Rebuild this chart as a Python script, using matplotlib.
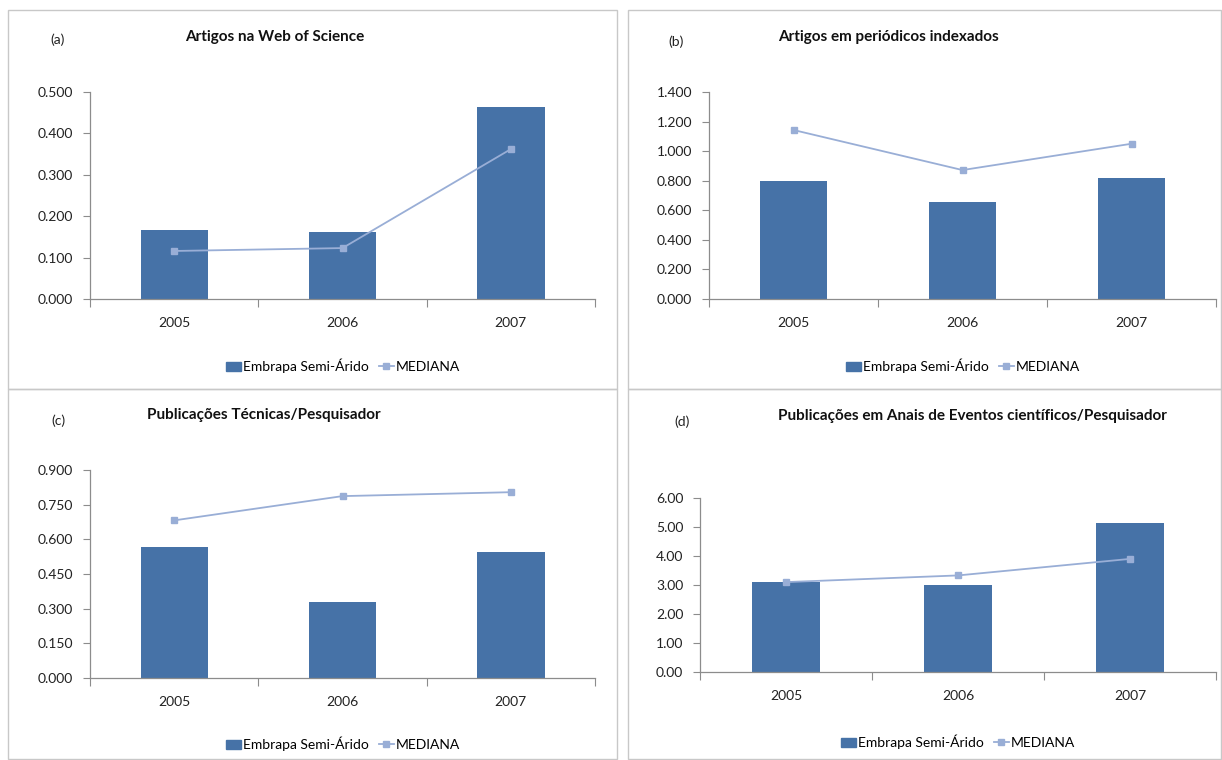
import numpy as np
import matplotlib.pyplot as plt
from matplotlib.patches import Rectangle
from matplotlib.lines import Line2D
from matplotlib.ticker import FormatStrFormatter

plt.rcParams['font.family'] = ['Lato', 'DejaVu Sans']

years = ['2005', '2006', '2007']

# (a) Artigos na Web of Science
wos_embrapa = [0.167, 0.162, 0.464]
wos_mediana = [0.116, 0.123, 0.362]

# (b) Artigos em periódicos indexados
per_embrapa = [0.800, 0.656, 0.818]
per_mediana = [1.143, 0.872, 1.050]

# (c) Publicações Técnicas/Pesquisador
tec_embrapa = [0.567, 0.329, 0.545]
tec_mediana = [0.682, 0.787, 0.804]

# (d) Publicações em Anais de Eventos científicos/Pesquisador
anais_embrapa = [3.12, 3.00, 5.13]
anais_mediana = [3.10, 3.33, 3.90]

BAR = '#4672A7'
LINE = '#99AED6'
AXC = '#8C8C8C'
W, H = 1222, 760

fig = plt.figure(figsize=(W / 100, H / 100), dpi=100)


def fx(x):
    return x / W


def fy(y):
    return 1 - y / H


# panel frames
for (x0, y0, x1, y1) in [(8, 10, 617, 389), (628, 10, 1221, 389),
                         (8, 389, 617, 759), (628, 389, 1221, 759)]:
    fig.add_artist(Rectangle((fx(x0), fy(y1)), fx(x1 - x0), (y1 - y0) / H,
                             transform=fig.transFigure, fill=False,
                             edgecolor='#C8C8C8', linewidth=1.0))

panels = [
    dict(box=(90, 92, 595, 299), emb=wos_embrapa, med=wos_mediana, ymax=0.5, step=0.1,
         fmt='%.3f', tag='(a)', tagpos=(58, 40), title='Artigos na Web of Science',
         titlepos=(275, 37), leg=(343, 366)),
    dict(box=(709, 92, 1216, 299), emb=per_embrapa, med=per_mediana, ymax=1.4, step=0.2,
         fmt='%.3f', tag='(b)', tagpos=(676, 42), title='Artigos em periódicos indexados',
         titlepos=(888, 37), leg=(963, 366)),
    dict(box=(90, 470, 595, 678), emb=tec_embrapa, med=tec_mediana, ymax=0.9, step=0.15,
         fmt='%.3f', tag='(c)', tagpos=(58, 421), title='Publicações Técnicas/Pesquisador',
         titlepos=(264, 415), leg=(343, 744)),
    dict(box=(700, 498, 1216, 672), emb=anais_embrapa, med=anais_mediana, ymax=6.0, step=1.0,
         fmt='%.2f', tag='(d)', tagpos=(682, 422), title='Publicações em Anais de Eventos científicos/Pesquisador',
         titlepos=(972, 416), leg=(958, 742)),
]

x = np.arange(len(years))
for p in panels:
    x0, y0, x1, y1 = p['box']
    ax = fig.add_axes([fx(x0), fy(y1), fx(x1 - x0), (y1 - y0) / H])
    ax.bar(x, p['emb'], width=0.4, color=BAR, zorder=2)
    ax.plot(x, p['med'], color=LINE, linewidth=1.3, marker='s', markersize=5,
            markerfacecolor=LINE, markeredgecolor=LINE, zorder=3)
    ax.set_xlim(-0.5, 2.5)
    ax.set_ylim(0, p['ymax'])
    ax.set_yticks(np.arange(0, p['ymax'] + p['step'] / 2, p['step']))
    ax.yaxis.set_major_formatter(FormatStrFormatter(p['fmt']))
    ax.set_xticks([-0.5, 0.5, 1.5, 2.5])
    ax.set_xticklabels([])
    ax.set_xticks(x, minor=True)
    ax.set_xticklabels(years, minor=True)
    ax.tick_params(axis='x', which='major', length=6, color=AXC, direction='out')
    ax.tick_params(axis='x', which='minor', length=0, pad=13, labelsize=10, labelcolor='#222222')
    ax.tick_params(axis='y', length=5, color=AXC, direction='out', pad=7,
                   labelsize=10, labelcolor='#222222')
    for s in ['top', 'right']:
        ax.spines[s].set_visible(False)
    for s in ['left', 'bottom']:
        ax.spines[s].set_color(AXC)
        ax.spines[s].set_linewidth(0.9)
    ax.set_facecolor('none')

    fig.text(fx(p['tagpos'][0]), fy(p['tagpos'][1]), p['tag'], ha='center', va='center',
             fontsize=10, color='#222222')
    fig.text(fx(p['titlepos'][0]), fy(p['titlepos'][1]), p['title'], ha='center', va='center',
             fontsize=11, fontweight='bold', color='#111111')

    handles = [Rectangle((0, 0), 1, 1, color=BAR),
               Line2D([], [], color=LINE, marker='s', markersize=5, linewidth=1.3)]
    fig.legend(handles, ['Embrapa Semi-Árido', 'MEDIANA'], loc='center',
               bbox_to_anchor=(fx(p['leg'][0]), fy(p['leg'][1])), ncol=2, frameon=False,
               fontsize=10, handlelength=1.1, handleheight=0.7, handletextpad=0.15,
               columnspacing=0.7, borderaxespad=0)

fig.savefig('out.png', dpi=100)
